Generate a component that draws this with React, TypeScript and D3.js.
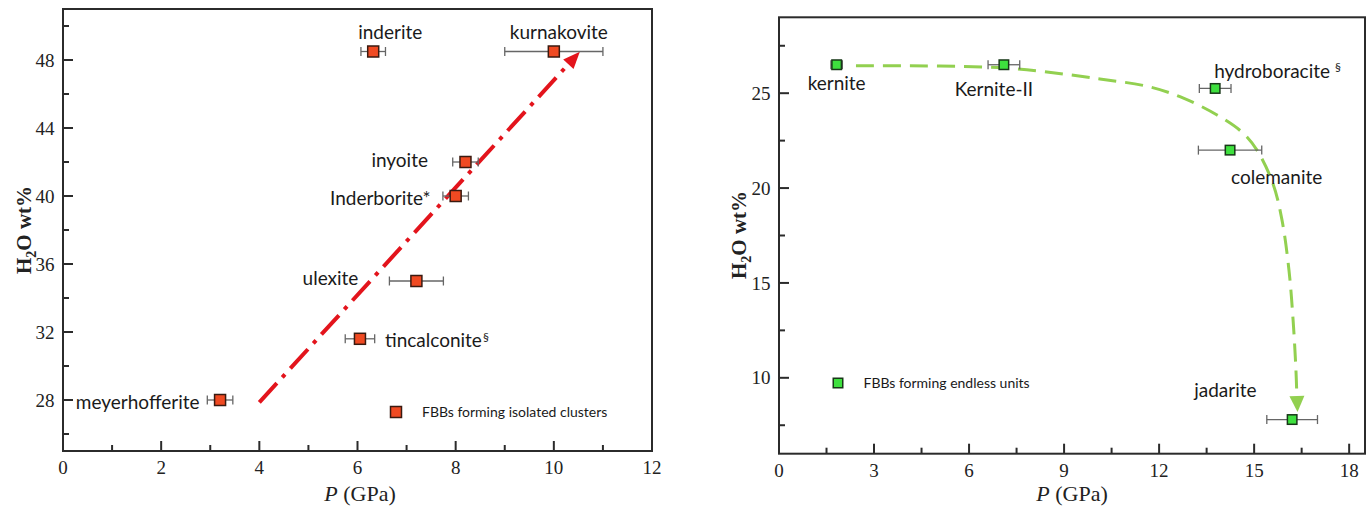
import React from "react";
import * as d3 from "d3";

// ---------- Left panel: FBBs forming isolated clusters ----------
const isoNames = ["meyerhofferite", "tincalconite", "ulexite", "Inderborite*", "inyoite", "inderite", "kurnakovite"];
const isoSup = ["", "§", "", "", "", "", ""];
const isoP = [3.2, 6.05, 7.2, 8.0, 8.2, 6.32, 10.0];
const isoH2O = [28.0, 31.6, 35.0, 40.0, 42.0, 48.5, 48.5];
const isoErr = [0.26, 0.3, 0.55, 0.26, 0.26, 0.25, 1.0];
const trendP = [4.0, 10.53];
const trendH2O = [27.86, 48.49];
const leftXMajor = [0, 2, 4, 6, 8, 10, 12];
const leftXMinor = [1, 3, 5, 7, 9, 11];
const leftYMajor = [28, 32, 36, 40, 44, 48];
const leftYMinor = [26, 30, 34, 38, 42, 46, 50];

// ---------- Right panel: FBBs forming endless units ----------
const endNames = ["kernite", "Kernite-II", "hydroboracite", "colemanite", "jadarite"];
const endSup = ["", "", "§", "", ""];
const endP = [1.82, 7.1, 13.77, 14.24, 16.2];
const endH2O = [26.5, 26.5, 25.25, 22.0, 7.8];
const endErr = [0.18, 0.5, 0.5, 1.0, 0.8];
const curveP = [2.43, 7.1, 10.13, 11.71, 12.75, 13.83, 14.65, 15.09, 15.59, 15.88, 16.1, 16.23, 16.32, 16.35];
const curveH2O = [26.44, 26.33, 25.75, 25.33, 24.75, 23.85, 22.9, 22.0, 20.26, 18.31, 15.67, 13.04, 10.4, 8.93];
const curveTip = [16.37, 8.2];
const rightXMajor = [0, 3, 6, 9, 12, 15, 18];
const rightXMinor = [1.5, 4.5, 7.5, 10.5, 13.5, 16.5];
const rightYMajor = [10, 15, 20, 25];
const rightYMinor = [7.5, 12.5, 17.5, 22.5, 27.5];

// ---------- layout ----------
const leftLabelPos: [number, number, string][] = [
  [-20.5, 2, "end"],
  [25, 2, "start"],
  [-58, -3, "end"],
  [-25, 2, "end"],
  [-37.5, -2, "end"],
  [17, -19.5, "middle"],
  [5, -19.5, "middle"],
];
const rightLabelPos: [number, number, string][] = [
  [0, 19, "middle"],
  [-10, 25, "middle"],
  [-1, -17.5, "start"],
  [1, 27.7, "start"],
  [-98, -29, "start"],
];

const SERIF = "'Liberation Serif', 'Times New Roman', serif";
const SANS = "Lato, Calibri, 'Noto Sans', sans-serif";
const FRAME = "#2b2b2b";

type Scale = d3.ScaleLinear<number, number>;

function Frame({ x, y, xMajor, xMinor, yMajor, yMinor, titleX, titleY }: any) {
  const [x0, x1] = x.range();
  const [y0, y1] = y.range();
  return (
    <g>
      <rect x={x0} y={y1} width={x1 - x0} height={y0 - y1} fill="none" stroke={FRAME} strokeWidth={2} />
      {xMajor.map((v: number) => (
        <g key={"xm" + v}>
          <line x1={x(v)} x2={x(v)} y1={y0} y2={y0 - 10} stroke={FRAME} strokeWidth={2} />
          <text x={x(v)} y={y0 + 23} textAnchor="middle" fontFamily={SERIF} fontSize={19} fill="#222">{v}</text>
        </g>
      ))}
      {xMinor.map((v: number) => (
        <line key={"xn" + v} x1={x(v)} x2={x(v)} y1={y0} y2={y0 - 6} stroke={FRAME} strokeWidth={2} />
      ))}
      {yMajor.map((v: number) => (
        <g key={"ym" + v}>
          <line x1={x0} x2={x0 + 10} y1={y(v)} y2={y(v)} stroke={FRAME} strokeWidth={2} />
          <text x={x0 - 8.5} y={y(v)} dy="0.35em" textAnchor="end" fontFamily={SERIF} fontSize={19} fill="#222">{v}</text>
        </g>
      ))}
      {yMinor.map((v: number) => (
        <line key={"yn" + v} x1={x0} x2={x0 + 6} y1={y(v)} y2={y(v)} stroke={FRAME} strokeWidth={2} />
      ))}
      <text x={titleX[0]} y={titleX[1]} textAnchor="middle" fontFamily={SERIF} fontSize={22} fill="#222">
        <tspan fontStyle="italic">P</tspan> (GPa)
      </text>
      <text transform={`translate(${titleY[0]},${titleY[1]}) rotate(-90)`} textAnchor="middle" fontFamily={SERIF} fontSize={21} fontWeight="bold" fill="#222">
        H<tspan dy={5} fontSize={14}>2</tspan><tspan dy={-5}>O wt%</tspan>
      </text>
    </g>
  );
}

function Points({ x, y, P, H, E, names, sups, pos, fill, stroke, size }: any) {
  return (
    <g>
      {P.map((p: number, i: number) => {
        const cx = x(p), cy = y(H[i]);
        const xa = x(p - E[i]), xb = x(p + E[i]);
        return (
          <g key={i}>
            <line x1={xa} x2={xb} y1={cy} y2={cy} stroke="#666" strokeWidth={1.3} />
            <line x1={xa} x2={xa} y1={cy - 4.5} y2={cy + 4.5} stroke="#666" strokeWidth={1.3} />
            <line x1={xb} x2={xb} y1={cy - 4.5} y2={cy + 4.5} stroke="#666" strokeWidth={1.3} />
          </g>
        );
      })}
      {P.map((p: number, i: number) => (
        <rect key={"m" + i} x={x(p) - size / 2} y={y(H[i]) - size / 2} width={size} height={size} fill={fill} stroke={stroke} strokeWidth={1.5} />
      ))}
      {P.map((p: number, i: number) => {
        const [dx, dy, anchor] = pos[i];
        return (
          <text key={"t" + i} x={x(p) + dx} y={y(H[i]) + dy} dy="0.35em" textAnchor={anchor} fontFamily={SANS} fontSize={19} fill="#1a1a1a">
            {names[i]}
            {sups[i] ? (
              <tspan dy="-0.55em" fontSize={12} dx={names[i] === "hydroboracite" ? 5 : 1}>{sups[i]}</tspan>
            ) : null}
          </text>
        );
      })}
    </g>
  );
}

function arrowHead(tip: [number, number], from: [number, number], len: number, half: number) {
  const dx = tip[0] - from[0], dy = tip[1] - from[1];
  const L = Math.hypot(dx, dy);
  const ux = dx / L, uy = dy / L;
  const bx = tip[0] - ux * len, by = tip[1] - uy * len;
  return `M${tip[0]},${tip[1]}L${bx - uy * half},${by + ux * half}L${bx + uy * half},${by - ux * half}Z`;
}

export default function App() {
  const xL: Scale = d3.scaleLinear().domain([0, 12]).range([63, 652]);
  const yL: Scale = d3.scaleLinear().domain([25, 51]).range([451, 9]);
  const xR: Scale = d3.scaleLinear().domain([0, 18.5]).range([779, 1365]);
  const yR: Scale = d3.scaleLinear().domain([6, 29]).range([453.7, 17.3]);

  // red trend arrow
  const tS: [number, number] = [xL(trendP[0]), yL(trendH2O[0])];
  const tE: [number, number] = [xL(trendP[1]), yL(trendH2O[1])];
  const redLen = 15;
  const dxr = tE[0] - tS[0], dyr = tE[1] - tS[1];
  const Lr = Math.hypot(dxr, dyr);
  const redBase: [number, number] = [tE[0] - (dxr / Lr) * redLen, tE[1] - (dyr / Lr) * redLen];

  // green curve
  const pts: [number, number][] = curveP.map((p, i) => [xR(p), yR(curveH2O[i])]);
  const line = d3.line().curve(d3.curveCatmullRom.alpha(0.5));
  const gTip: [number, number] = [xR(curveTip[0]), yR(curveTip[1])];
  const gFrom = pts[pts.length - 2];

  return (
    <svg width={1372} height={508} style={{ position: "absolute", left: 0, top: 0, background: "#fff" }}>
      <rect width={1372} height={508} fill="#fff" />
      <Frame x={xL} y={yL} xMajor={leftXMajor} xMinor={leftXMinor} yMajor={leftYMajor} yMinor={leftYMinor}
        titleX={[360, 501]} titleY={[31, 230]} />
      <Frame x={xR} y={yR} xMajor={rightXMajor} xMinor={rightXMinor} yMajor={rightYMajor} yMinor={rightYMinor}
        titleX={[1072, 501]} titleY={[746, 235]} />

      {/* red dash-dot trend */}
      <line x1={tS[0]} y1={tS[1]} x2={redBase[0]} y2={redBase[1]} stroke="#e3141c" strokeWidth={4}
        strokeDasharray="26 8 4 8" />
      <path d={arrowHead(tE, tS, 17, 7)} fill="#e3141c" />

      {/* green dashed curve */}
      <path d={line(pts) || ""} fill="none" stroke="#92d050" strokeWidth={3} strokeDasharray="18 9" />
      <path d={arrowHead(gTip, gFrom, 16, 7.5)} fill="#92d050" />

      <Points x={xL} y={yL} P={isoP} H={isoH2O} E={isoErr} names={isoNames} sups={isoSup} pos={leftLabelPos}
        fill="#f04a22" stroke="#3a1a10" size={11} />
      <Points x={xR} y={yR} P={endP} H={endH2O} E={endErr} names={endNames} sups={endSup} pos={rightLabelPos}
        fill="#3ee03e" stroke="#183818" size={9.5} />

      {/* legends */}
      <rect x={396 - 5.5} y={412 - 5.5} width={11} height={11} fill="#f04a22" stroke="#3a1a10" strokeWidth={1.5} />
      <text x={422} y={412} dy="0.35em" fontFamily={SANS} fontSize={14} fill="#1a1a1a">FBBs forming isolated clusters</text>
      <rect x={838 - 4.75} y={383 - 4.75} width={9.5} height={9.5} fill="#3ee03e" stroke="#183818" strokeWidth={1.5} />
      <text x={863.5} y={383} dy="0.35em" fontFamily={SANS} fontSize={14} fill="#1a1a1a">FBBs forming endless units</text>
    </svg>
  );
}
